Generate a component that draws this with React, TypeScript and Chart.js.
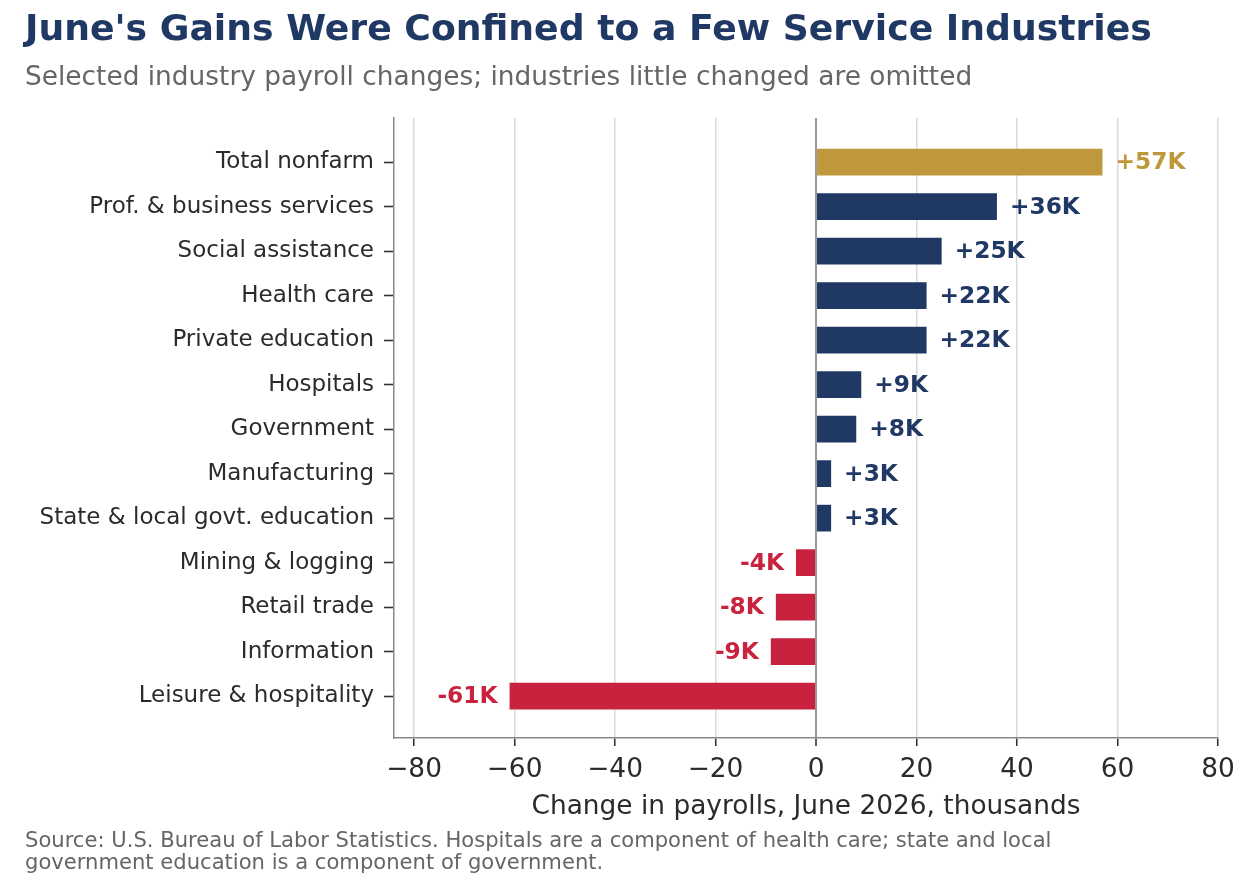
import React, { useEffect, useRef } from 'react';
import { Chart, registerables } from 'chart.js';

Chart.register(...registerables);

const categories = [
  'Total nonfarm',
  'Prof. & business services',
  'Social assistance',
  'Health care',
  'Private education',
  'Hospitals',
  'Government',
  'Manufacturing',
  'State & local govt. education',
  'Mining & logging',
  'Retail trade',
  'Information',
  'Leisure & hospitality',
];
const values = [57, 36, 25, 22, 22, 9, 8, 3, 3, -4, -8, -9, -61];
const xTickValues = [-80, -60, -40, -20, 0, 20, 40, 60, 80];

const TITLE = "June's Gains Were Confined to a Few Service Industries";
const SUBTITLE = 'Selected industry payroll changes; industries little changed are omitted';
const FOOTER1 = 'Source: U.S. Bureau of Labor Statistics. Hospitals are a component of health care; state and local';
const FOOTER2 = 'government education is a component of government.';
const X_TITLE = 'Change in payrolls, June 2026, thousands';

const GOLD = '#C0983C';
const NAVY = '#1F3864';
const RED = '#C8223E';
const FONT = "'DejaVu Sans'";

const colorFor = (v: number, i: number) => (i === 0 ? GOLD : v >= 0 ? NAVY : RED);
const fmt = (v: number) => (v >= 0 ? `+${v}K` : `${v}K`);

const textPlugin = {
  id: 'texts',
  afterDatasetsDraw(chart: any) {
    const ctx = chart.ctx;
    const meta = chart.getDatasetMeta(0);
    ctx.save();
    ctx.font = `bold 23.3px ${FONT}`;
    ctx.textBaseline = 'middle';
    meta.data.forEach((bar: any, i: number) => {
      const v = values[i];
      ctx.fillStyle = colorFor(v, i);
      if (v >= 0) {
        ctx.textAlign = 'left';
        ctx.fillText(fmt(v), bar.x + 13, bar.y + 1);
      } else {
        ctx.textAlign = 'right';
        ctx.fillText(fmt(v), bar.x - 12, bar.y + 1);
      }
    });
    ctx.restore();
  },
  afterDraw(chart: any) {
    const ctx = chart.ctx;
    ctx.save();
    ctx.textAlign = 'left';
    ctx.textBaseline = 'alphabetic';
    ctx.fillStyle = NAVY;
    ctx.font = `bold 36.2px ${FONT}`;
    ctx.fillText(TITLE, 25, 40);
    ctx.fillStyle = '#666666';
    ctx.font = `26.4px ${FONT}`;
    ctx.fillText(SUBTITLE, 25, 85);
    ctx.font = `21.1px ${FONT}`;
    ctx.fillText(FOOTER1, 25, 847);
    ctx.fillText(FOOTER2, 25, 869);
    ctx.restore();
  },
};

export default function App() {
  const ref = useRef<HTMLCanvasElement | null>(null);
  useEffect(() => {
    if (!ref.current) return;
    const chart = new Chart(ref.current, {
      type: 'bar',
      data: {
        datasets: [
          {
            data: values.map((v, i) => ({ x: v, y: i })),
            backgroundColor: values.map((v, i) => colorFor(v, i)),
            barPercentage: 0.6,
            categoryPercentage: 1,
            borderWidth: 0,
          },
        ],
      },
      options: {
        indexAxis: 'y',
        animation: false,
        responsive: true,
        maintainAspectRatio: false,
        layout: { padding: { top: 118, left: 25, right: 32, bottom: 51 } },
        plugins: { legend: { display: false }, tooltip: { enabled: false } },
        scales: {
          x: {
            type: 'linear',
            min: -84,
            max: 80,
            afterBuildTicks: (s: any) => {
              s.ticks = xTickValues.map((v) => ({ value: v }));
            },
            afterFit: (s: any) => {
              s.height = 100;
            },
            grid: {
              color: (c: any) => (c.tick && c.tick.value === 0 ? '#999999' : '#d9d9d9'),
              lineWidth: (c: any) => (c.tick && c.tick.value === 0 ? 2 : 1.5),
              tickColor: '#333333',
              tickLength: 8,
              tickWidth: 1.6,
            },
            border: { color: '#888888', width: 1.5 },
            ticks: {
              color: '#2b2b2b',
              font: { family: FONT, size: 26.4 },
              padding: 8,
              callback: (v: any) => (v < 0 ? '\u2212' + Math.abs(v) : String(v)),
            },
            title: {
              display: true,
              text: X_TITLE,
              color: '#2b2b2b',
              font: { family: FONT, size: 26.4 },
              padding: { top: 2, bottom: 15 },
            },
          },
          y: {
            type: 'linear',
            reverse: true,
            offset: false,
            min: -0.99,
            max: 12.94,
            afterBuildTicks: (s: any) => {
              s.ticks = categories.map((_, i) => ({ value: i }));
            },
            afterFit: (s: any) => {
              s.width = 369;
            },
            grid: {
              offset: false,
              drawOnChartArea: false,
              drawTicks: true,
              tickLength: 10,
              tickColor: '#333333',
              tickWidth: 1.6,
            },
            border: { color: '#888888', width: 1.5 },
            ticks: {
              color: '#2b2b2b',
              font: { family: FONT, size: 23 },
              padding: 10,
              autoSkip: false,
              callback: (v: any) => categories[v] ?? '',
            },
          },
        },
      },
      plugins: [textPlugin],
    } as any);
    return () => chart.destroy();
  }, []);
  return (
    <div style={{ position: 'fixed', left: 0, top: 0, width: 1250, height: 889, background: '#fff' }}>
      <canvas ref={ref} />
    </div>
  );
}
